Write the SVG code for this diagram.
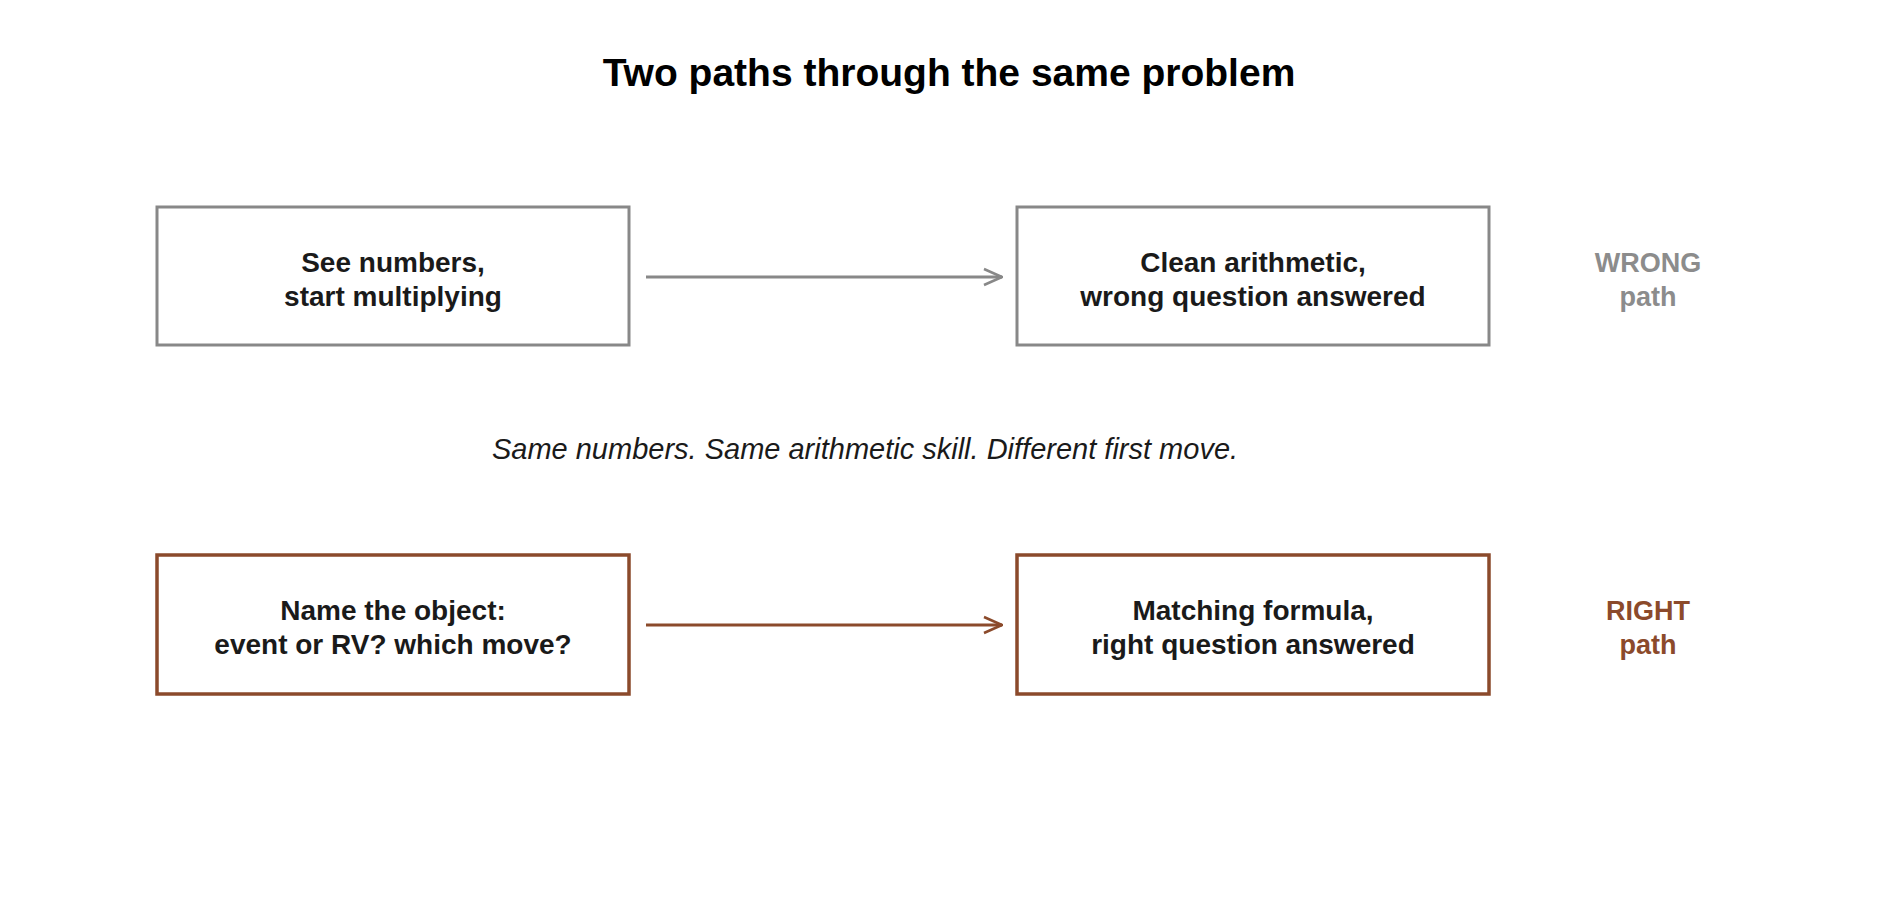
<svg xmlns="http://www.w3.org/2000/svg" width="1900" height="900" viewBox="0 0 1900 900">
<defs>
<style>
text{font-family:"Liberation Sans",Arial,sans-serif;}
.t{font-size:28px;font-weight:bold;fill:#1a1a1a;text-anchor:middle}
.g{fill:#fff;stroke:#888;stroke-width:3}
.b{fill:#fff;stroke:#8b4a2b;stroke-width:3.5}
</style>
<marker id="ag" viewBox="0 0 20 20" refX="19" refY="10" markerWidth="20" markerHeight="20" markerUnits="userSpaceOnUse" orient="auto"><path d="M1,2 L19,10 L1,18" fill="none" stroke="#888" stroke-width="2.5"/></marker>
<marker id="ab" viewBox="0 0 20 20" refX="19" refY="10" markerWidth="20" markerHeight="20" markerUnits="userSpaceOnUse" orient="auto"><path d="M1,2 L19,10 L1,18" fill="none" stroke="#8b4a2b" stroke-width="2.5"/></marker>
</defs>
<rect width="1900" height="900" fill="#fff"/>
<text x="949" y="86" text-anchor="middle" font-size="39" font-weight="bold" fill="#000">Two paths through the same problem</text>
<g id="connectors">
<line x1="646" y1="277" x2="1002" y2="277" stroke="#888" stroke-width="3" marker-end="url(#ag)"/>
<line x1="646" y1="625" x2="1002" y2="625" stroke="#8b4a2b" stroke-width="3" marker-end="url(#ab)"/>
</g>
<g id="n1"><rect class="g" x="157" y="207" width="472" height="138"/><text class="t" x="393" y="272">See numbers,</text><text class="t" x="393" y="306">start multiplying</text></g>
<g id="n2"><rect class="g" x="1017" y="207" width="472" height="138"/><text class="t" x="1253" y="272">Clean arithmetic,</text><text class="t" x="1253" y="306">wrong question answered</text></g>
<g id="n3"><rect class="b" x="157" y="555" width="472" height="139"/><text class="t" x="393" y="620">Name the object:</text><text class="t" x="393" y="654">event or RV? which move?</text></g>
<g id="n4"><rect class="b" x="1017" y="555" width="472" height="139"/><text class="t" x="1253" y="620">Matching formula,</text><text class="t" x="1253" y="654">right question answered</text></g>
<g id="labels">
<text x="1648" y="272" text-anchor="middle" font-size="27" font-weight="bold" fill="#8c8c8c">WRONG</text>
<text x="1648" y="306" text-anchor="middle" font-size="27" font-weight="bold" fill="#8c8c8c">path</text>
<text x="1648" y="620" text-anchor="middle" font-size="27" font-weight="bold" fill="#8b4a2b">RIGHT</text>
<text x="1648" y="654" text-anchor="middle" font-size="27" font-weight="bold" fill="#8b4a2b">path</text>
<text x="865" y="459" text-anchor="middle" font-size="29" font-style="italic" fill="#1a1a1a">Same numbers. Same arithmetic skill. Different first move.</text>
</g>
</svg>
